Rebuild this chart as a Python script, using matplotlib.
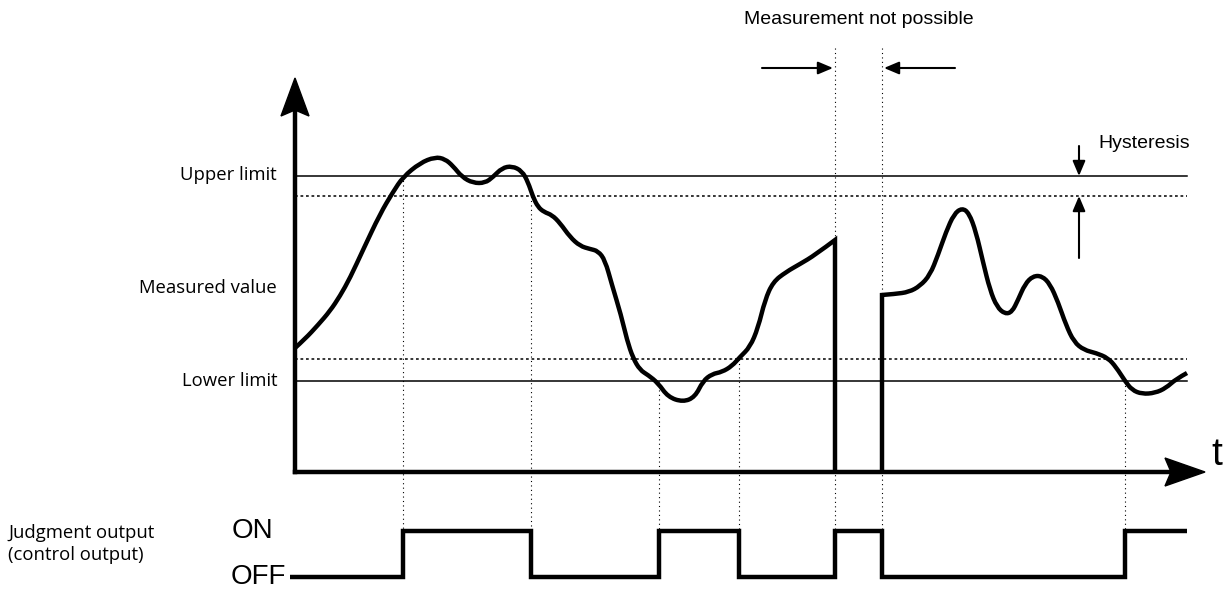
import numpy as np
import matplotlib.pyplot as plt
from matplotlib.patches import Polygon, PathPatch
from matplotlib.path import Path

# measured value, first part (before measurement becomes impossible)
t_seg1 = [0, 10, 23, 35, 45, 55, 68, 85, 98, 108, 125, 140, 150, 158, 167, 178, 190, 198,
          207, 217, 227, 233, 238, 243, 249, 257, 265, 275, 285, 295, 303, 310, 317, 326,
          332, 338, 345, 353, 363, 373, 388, 400, 408, 417, 427, 437, 445, 455, 463, 470,
          478, 491, 505, 520, 540]
v_seg1 = [124, 133, 147, 161, 176, 194, 222, 258, 280, 295, 309, 315, 313, 306, 295, 289, 289, 295,
          304, 306, 301, 290, 275, 265, 260, 257, 249, 235, 226, 223, 221, 212, 187, 157,
          132, 114, 102, 97, 89, 75, 70, 75, 91, 98, 100, 106, 115, 125, 144, 172,
          190, 200, 208, 217, 232]

# measured value, second part (measurement possible again)
t_seg2 = [587, 600, 614, 625, 635, 643, 651, 659, 667, 674, 681, 688, 695, 702, 710, 717,
          723, 730, 738, 747, 755, 763, 771, 779, 789, 801, 813, 821, 830, 837, 847, 860,
          871, 881, 892]
v_seg2 = [177, 178, 180, 186, 197, 217, 240, 258, 264, 259, 240, 210, 182, 165, 158, 160,
          172, 188, 196, 196, 188, 170, 147, 130, 122, 119, 114, 105, 91, 82, 78, 79,
          84, 93, 99]

upper_limit = 296
lower_limit = 91
hysteresis = 20
t_end = 892

# judgment output switching
switch_t = [-5, 108, 236, 364, 444, 540, 587, 830, 892]
switch_state = [0, 1, 0, 1, 0, 1, 0, 1, 1]
# where the dotted guide lines start (level on the measured axis)
guide_t = [108, 236, 364, 444, 830]
guide_v = [296, 276, 91, 113, 91]
gap_t = [540, 587]

on_v, off_v = -59, -105


def smooth_codes(n):
    # quadratic bezier through midpoints, matplotlib draws the curve
    return [Path.MOVETO] + [Path.CURVE3, Path.CURVE3] * (n - 2) + [Path.LINETO]


def smooth_verts(t, v):
    p = np.column_stack([t, v]).astype(float)
    verts = [p[0]]
    for i in range(1, len(p) - 1):
        verts.append(p[i])
        verts.append((p[i] + p[i + 1]) / 2 if i < len(p) - 2 else p[i + 1])
    verts.append(p[-1])
    return verts


fig = plt.figure(figsize=(12.23, 5.99), dpi=100)
ax = fig.add_axes([0, 0, 1, 1])
ax.set_xlim(-295, 928)
ax.set_ylim(-127, 472)
ax.axis("off")

lw_thick = 3.2
lw_thin = 1.1

# limit lines
ax.plot([0, t_end], [upper_limit, upper_limit], color="black", lw=lw_thin)
ax.plot([0, t_end], [upper_limit - hysteresis, upper_limit - hysteresis], color="black",
        lw=lw_thin, ls=(0, (1.8, 1.8)))
ax.plot([0, t_end], [lower_limit, lower_limit], color="black", lw=lw_thin)
ax.plot([0, t_end], [lower_limit + hysteresis + 2, lower_limit + hysteresis + 2], color="black",
        lw=lw_thin, ls=(0, (1.8, 1.8)))

# dotted guides
for gt, gv in zip(guide_t, guide_v):
    ax.plot([gt, gt], [gv, on_v], color="black", lw=0.8, ls=(0, (1, 3)))
for gt in gap_t:
    ax.plot([gt, gt], [424, on_v], color="black", lw=0.8, ls=(0, (1, 3)))

# measured value: smooth curve, then the drop when measurement stops
v1 = smooth_verts(t_seg1, v_seg1) + [(t_seg1[-1], 0)]
c1 = smooth_codes(len(t_seg1)) + [Path.LINETO]
ax.add_patch(PathPatch(Path(v1, c1), fill=False, lw=lw_thick, ec="black",
                       joinstyle="miter", capstyle="butt"))
v2 = [(t_seg2[0], 0)] + smooth_verts(t_seg2, v_seg2)
c2 = [Path.MOVETO] + [Path.LINETO] + smooth_codes(len(t_seg2))[1:]
ax.add_patch(PathPatch(Path(v2, c2), fill=False, lw=lw_thick, ec="black",
                       joinstyle="miter", capstyle="butt"))

# axes with arrows
ax.plot([0, 0], [0, 370], color="black", lw=lw_thick, solid_capstyle="projecting")
ax.plot([0, 885], [0, 0], color="black", lw=lw_thick, solid_capstyle="projecting")
ax.add_patch(Polygon([[0, 394], [-14, 356], [0, 362], [14, 356]], closed=True, color="black"))
ax.add_patch(Polygon([[910, 0], [870, 14], [876, 0], [870, -14]], closed=True, color="black"))
ax.text(922, 17, "t", fontsize=28, family="Liberation Sans", ha="center", va="center")

# judgment output
levels = [on_v if s else off_v for s in switch_state]
ax.step(switch_t, levels, where="post", color="black", lw=lw_thick, solid_joinstyle="miter",
        solid_capstyle="butt")

lab = dict(fontsize=13.3, family="Open Sans", color="black")
ax.text(-18, upper_limit + 1, "Upper limit", ha="right", va="center", **lab)
ax.text(-18, 184, "Measured value", ha="right", va="center", **lab)
ax.text(-18, lower_limit, "Lower limit", ha="right", va="center", **lab)
ax.text(-287, -61, "Judgment output", ha="left", va="center", **lab)
ax.text(-287, -83, "(control output)", ha="left", va="center", **lab)
ax.text(-63, on_v, "ON", ha="left", va="center", fontsize=20, family="Liberation Sans")
ax.text(-64, off_v, "OFF", ha="left", va="center", fontsize=20, family="Liberation Sans")

# measurement not possible
narrow = dict(fontsize=14, family="Liberation Sans")
ax.text(564, 453, "Measurement not possible", ha="center", va="center", **narrow)
arr = dict(arrowstyle="-|>,head_length=0.9,head_width=0.38", color="black", lw=1.5,
           shrinkA=0, shrinkB=0)
ax.annotate("", xy=(538, 404), xytext=(467, 404), arrowprops=arr)
ax.annotate("", xy=(589, 404), xytext=(660, 404), arrowprops=arr)

# hysteresis
ax.annotate("", xy=(784, upper_limit), xytext=(784, 326), arrowprops=arr)
ax.annotate("", xy=(784, upper_limit - hysteresis), xytext=(784, 214), arrowprops=arr)
ax.text(803, 329, "Hysteresis", ha="left", va="center", **narrow)

fig.savefig("out.png", dpi=100)
